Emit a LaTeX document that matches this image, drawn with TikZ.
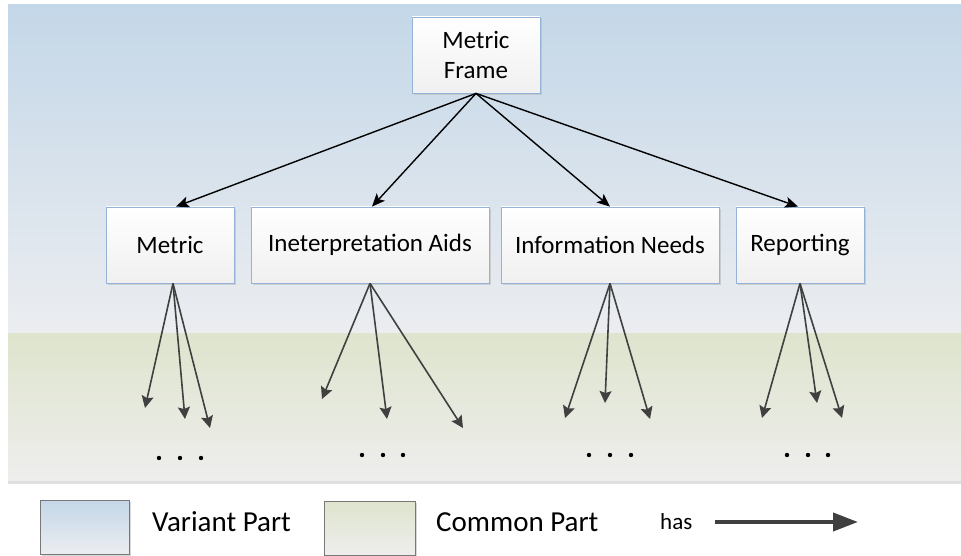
\documentclass[tikz,border=0pt]{standalone}
\usepackage{fontspec}
\setmainfont{Carlito}
\usetikzlibrary{arrows.meta,shadows}

\definecolor{skyTop}{RGB}{196,215,232}
\definecolor{skyBot}{RGB}{235,237,240}
\definecolor{grassTop}{RGB}{222,228,205}
\definecolor{grassBot}{RGB}{238,238,237}
\definecolor{boxEdge}{RGB}{149,179,215}
\definecolor{linkGray}{RGB}{64,64,64}
\definecolor{keyEdge}{RGB}{120,120,120}

\begin{document}
\begin{tikzpicture}[x=1pt,y=-1pt,
  part/.style={draw=boxEdge, line width=0.8pt, top color=white, bottom color=black!6,
    minimum height=76pt, inner sep=0pt, font=\fontsize{25}{30}\selectfont,
    drop shadow={shadow xshift=2pt,shadow yshift=-2pt,fill=black!30,opacity=0.5}},
  keybox/.style={draw=keyEdge, line width=0.8pt, minimum width=89pt, minimum height=54pt,
    inner sep=0pt,
    drop shadow={shadow xshift=2pt,shadow yshift=-2pt,fill=black!30,opacity=0.5}},
  keytext/.style={anchor=west, inner sep=0pt, font=\fontsize{29}{34}\selectfont},
  toplink/.style={black, line width=1.4pt, -{Stealth[length=13pt,width=11pt,inset=3pt]}},
  sublink/.style={linkGray, line width=1.6pt, -{Stealth[length=12pt,width=12pt,inset=2pt]}},
  dot/.style={fill=black}
]
\useasboundingbox (0,0) rectangle (961,556);

% layer backgrounds
\shade[top color=skyTop, bottom color=skyBot] (8,5) rectangle (961,333);
\shade[top color=grassTop, bottom color=grassBot] (8,333) rectangle (961,481);
\fill[black!12] (8,481) rectangle (961,484);

% root and first-level parts
\node[part, minimum width=128pt, align=center] (frame) at (476,55) {Metric\\Frame};
\node[part, minimum width=128pt] (metric) at (170,245) {Metric};
\node[part, minimum width=238pt] (aids) at (370,245) {Ineterpretation Aids};
\node[part, minimum width=218pt] (needs) at (610,245) {Information Needs};
\node[part, minimum width=128pt] (report) at (800,245) {Reporting};

\draw[toplink] (frame.south) -- ([xshift=6pt]metric.north);
\draw[toplink] (frame.south) -- ([xshift=2pt]aids.north);
\draw[toplink] (frame.south) -- (needs.north);
\draw[toplink] (frame.south) -- ([xshift=-2pt]report.north);

% open ends of the common-part links
\coordinate (m1) at (145,408);
\coordinate (m2) at (185,419);
\coordinate (m3) at (210,428);
\coordinate (a1) at (322,399);
\coordinate (a2) at (387,419);
\coordinate (a3) at (463,428);
\coordinate (n1) at (565,418);
\coordinate (n2) at (605,403);
\coordinate (n3) at (650,419);
\coordinate (r1) at (762,418);
\coordinate (r2) at (817,403);
\coordinate (r3) at (842,418);

\foreach \t in {m1,m2,m3} \draw[sublink] ([xshift=3pt]metric.south) -- (\t);
\foreach \t in {a1,a2,a3} \draw[sublink] (aids.south) -- (\t);
\foreach \t in {n1,n2,n3} \draw[sublink] (needs.south) -- (\t);
\foreach \t in {r1,r2,r3} \draw[sublink] (report.south) -- (\t);

% ellipses under each group
\foreach \x in {159,180,201} \fill[dot] (\x,458) circle (2.2pt);
\foreach \x in {362,383,403} \fill[dot] (\x,455) circle (2.2pt);
\foreach \x in {589,610,631} \fill[dot] (\x,455) circle (2.2pt);
\foreach \x in {787,808,828} \fill[dot] (\x,455) circle (2.2pt);

% legend
\node[keybox, top color=skyTop, bottom color=skyBot] (keyvar) at (84.5,527) {};
\node[keytext] (varlabel) at (152,522) {Variant Part};
\node[keybox, top color=grassTop, bottom color=grassBot, minimum width=91pt] (keycom) at (369.5,528) {};
\node[keytext] (comlabel) at (436,522) {Common Part};
\node[keytext, font=\fontsize{23}{27}\selectfont] (haslabel) at (660,522) {has};
\coordinate (hasA) at (715,522);
\coordinate (hasB) at (858,522);
\draw[linkGray, line width=4pt, -{Triangle[length=25pt,width=18pt]}] (hasA) -- (hasB);
\end{tikzpicture}
\end{document}
